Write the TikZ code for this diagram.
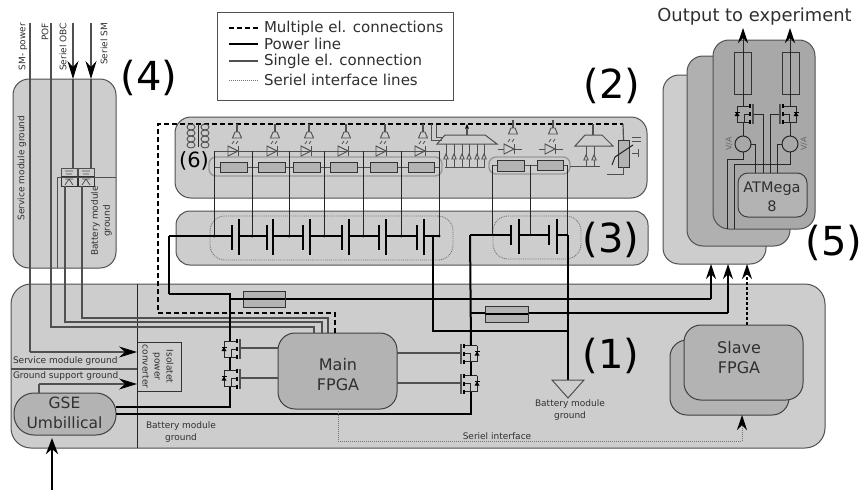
\documentclass[tikz,border=0pt]{standalone}
\usepackage{fontspec}
\setmainfont{DejaVu Sans}
\usetikzlibrary{arrows.meta, positioning, calc}
\definecolor{panelgray}{HTML}{CDCDCD}
\definecolor{boxgray}{HTML}{B3B3B3}
\definecolor{midgray}{HTML}{B0B0B0}
\definecolor{frontgray}{HTML}{A8A8A8}
\definecolor{wiregray}{HTML}{505050}
\definecolor{textgray}{HTML}{303030}
\tikzset{
    every node/.style={inner sep=0pt, outer sep=0pt, text=textgray},
    panel/.style={draw=wiregray, line width=1pt, fill=panelgray, rounded corners=#1},
    panel/.default=16pt,
    cellgroup/.style={draw=black!55, densely dotted, line width=0.9pt, rounded corners=15pt},
    resgroup/.style={draw=black!40, line width=1.4pt, rounded corners=7pt},
    resbox/.style={draw=black!80, line width=1pt, fill=boxgray},
    fpgabox/.style={draw=black!75, line width=1pt, fill=boxgray, rounded corners=#1},
    fpgabox/.default=17pt,
    sline/.style={draw=wiregray, line width=1.2pt},
    tline/.style={draw=black!85, line width=0.9pt},
    pline/.style={draw=black, line width=2pt},
    mline/.style={draw=black, line width=1.7pt, dash pattern=on 5pt off 3pt},
    iline/.style={draw=black!55, line width=1pt, dash pattern=on 1pt off 1pt},
    bigtip/.style={-{Stealth[length=18pt,width=11pt,inset=6pt,black]}},
    midtip/.style={-{Stealth[length=15pt,width=10pt,inset=5pt,black]}},
    smalltext/.style={font=\fontsize{9}{12}\selectfont},
    boxtext/.style={font=\fontsize{16}{20}\selectfont, align=center},
    numtext/.style={font=\fontsize{40}{44}\selectfont, text=black},
    legendtext/.style={font=\fontsize{15}{16}\selectfont, anchor=west},
    fetsym/.pic={
        \draw[tline] (-6,-8) -- (7,-8) (-6,-8) -- (-6,8) -- (7,8) (7,0) -- (1,0) -- (1,8);
        \draw[black, line width=2pt] (7,-10) -- (7,-6) (7,-2) -- (7,2) (7,6) -- (7,10);
        \draw[wiregray, line width=1.4pt] (10,-10) -- (10,10);
        \fill[black] (-8.5,2) -- (-3.5,2) -- (-6,-2) -- cycle;
        \draw[black, line width=1pt] (-8.5,-2) -- (-3.5,-2);
    },
    ledsym/.pic={
        \draw[sline, fill=panelgray, line width=0.9pt] (-5,-5) -- (5,0) -- (-5,5) -- cycle;
        \draw[sline, line width=0.9pt] (5,-5) -- (5,5);
        \draw[wiregray, line width=0.8pt] (-1,-7) -- (1,-10) (3,-7) -- (5,-10);
    },
    gndsym/.pic={
        \draw[sline] (0,0) -- (0,8);
        \draw[sline, fill=panelgray, line width=0.9pt] (-2,8) -- (2,8) -- (4.5,14) -- (-4.5,14) -- cycle;
    },
    inputsym/.pic={
        \draw[wiregray, line width=0.9pt, fill=panelgray] (-2.2,5) -- (0,0) -- (2.2,5) -- cycle;
    },
    optosym/.pic={
        \draw[wiregray, line width=0.8pt] (-8,-1) -- (-8,-9) -- (8,-9) -- (8,-1);
        \draw[black!80, line width=0.9pt] (-8,-1) rectangle (8,9);
        \draw[wiregray, line width=0.8pt] (-4,-6) -- (4,-6) (-3,-3) -- (3,-3) (-4,2) -- (4,2) (0,2) -- (-4,8) (0,2) -- (4,8);
    }
}

\begin{document}
\begin{tikzpicture}[x=1pt, y=-1pt]
    \useasboundingbox (0,0) rectangle (862,490);

    % Panels
    \node[panel, minimum width=814, minimum height=164, rounded corners=20pt] (mainboard) at (418,366) {};
    \node[panel, minimum width=103, minimum height=189] (smpanel) at (64.5,173.5) {};
    \node[panel, minimum width=472, minimum height=81] (ledpanel) at (411,157.5) {};
    \node[panel, minimum width=472, minimum height=54, rounded corners=14pt] (batpanel) at (412,238) {};
    \node[panel, minimum width=103, minimum height=189] (expback) at (714.5,169.5) {};
    \node[panel, fill=midgray, minimum width=103, minimum height=190] (expmid) at (738.5,151) {};
    \node[panel, fill=frontgray, minimum width=102, minimum height=189] (expfront) at (764,134.5) {};

    \node[cellgroup, minimum width=243, minimum height=44] (cellsleft) at (331.5,238) {};
    \node[cellgroup, minimum width=88, minimum height=43] (cellsright) at (537,237.5) {};
    \node[resgroup, minimum width=233, minimum height=19] (ressleft) at (325.5,166.5) {};
    \node[resgroup, minimum width=81, minimum height=17] (ressright) at (529.5,165.5) {};

    % Legend
    \node[draw=wiregray, line width=1pt, fill=white, minimum width=236, minimum height=88] (legendbox) at (335,56) {};
    \foreach \y/\s/\t/\n in {28/mline/Multiple el. connections/multi, 44/pline/Power line/power, 61/sline/Single el. connection/single, 80/iline/Seriel interface lines/seriel} {
        \coordinate (leg\n) at (229,\y);
        \node[legendtext, right=6pt of leg\n, xshift=29pt] (legtext\n) {\t};
        \draw[\s] (leg\n) -- (legtext\n.west -| 258,0);
    }

    % Main board boxes
    \node[fpgabox, minimum width=119, minimum height=76] (mainfpga) at (337.5,371) {};
    \node[boxtext] at (338,375) {Main\\FPGA};
    \node[fpgabox, minimum width=119, minimum height=75] (slaveback) at (729.5,377.5) {};
    \node[fpgabox, minimum width=119, minimum height=75] (slavefpga) at (743.5,362.5) {};
    \node[boxtext] at (739,358) {Slave\\FPGA};
    \node[fpgabox=20pt, minimum width=102, minimum height=42] (gse) at (65,414) {};
    \node[boxtext, font=\fontsize{15.5}{20}\selectfont] at (64.5,413) {GSE\\Umbillical};
    \node[draw=black!80, line width=0.9pt, minimum width=44, minimum height=49] (converter) at (159,366.5) {};
    \node[smalltext, rotate=-90, align=center] at (158,366.5) {Isolatet\\power\\converter};
    \draw[tline] (mainboard.north -| converter.west) -- (mainboard.south -| converter.west);
    \draw[sline] (mainboard.west |- 0,369) -- (converter.west |- 0,369);

    \node[smalltext, anchor=west] at (13,361) {Service module ground};
    \node[smalltext, anchor=west] at (13,376) {Ground support ground};
    \node[smalltext, align=center] at (181,432.5) {Battery module\\ground};
    \node[smalltext, align=center] at (570,410) {Battery module\\ground};
    \node[smalltext] (serieltext) at (497,436) {Seriel interface};

    % Top inputs
    \foreach \x/\t in {23/SM- power, 45/POF, 63/Seriel OBC, 104/Seriel SM} {
        \node[smalltext, rotate=90, anchor=east] at (\x,23) {\t};
    }
    \node[smalltext, rotate=90] at (22,168) {Service module ground};
    \node[smalltext, rotate=90, align=center] at (101.5,221) {Battery module\\ground};

    \pic (optoa) at (69,177) {optosym};
    \pic (optob) at (86,177) {optosym};
    \foreach \x in {73,91} {
        \coordinate (in\x) at (\x,23);
        \draw[sline, bigtip] (in\x) -- (\x,79);
        \draw[sline] (\x,79) -- (\x,168);
    }
    \draw[sline, line width=1pt] (57,268) -- (57,177) -- (smpanel.east |- 0,177);

    \coordinate (insm) at (30,23);
    \coordinate (inpof) at (51,23);
    \coordinate (optoout) at (65,186);
    \coordinate (optotwo) at (82,186);
    \draw[sline] (insm) -- (30,352);
    \draw[sline, bigtip] (30,352) -- (converter.west |- 0,352);
    \draw[sline] (39,393) -- (39,384);
    \draw[sline, bigtip] (39,384) -- (converter.west |- 0,384);
    \draw[sline] (inpof) |- (314,327) -- (mainfpga.north -| 314,0);
    \draw[sline] (optoout) |- (322,322) -- (mainfpga.north -| 322,0);
    \draw[sline] (optotwo) |- (328,318) -- (mainfpga.north -| 328,0);

    % Dashed bus
    \coordinate (busend) at (623,124);
    \draw[mline] (mainfpga.north -| 335,0) -- (335,313) -- (158,313) -- (158,124) -- (busend);
    \draw[sline] (busend) -- (623.5,140);

    % Coils
    \foreach \y in {127,133,139,145} {
        \draw[wiregray, line width=0.9pt] (191,\y) ellipse (4 and 3);
        \draw[wiregray, line width=0.9pt] (205,\y) ellipse (4 and 3);
    }
    \draw[black!85, line width=1.8pt] (198.5,124) -- (198.5,147);
    \node[numtext, font=\fontsize{21}{24}\selectfont] at (194,161) {(6)};

    % Left LED string and cells
    \foreach \x/\g in {233/237, 272/275, 306/309, 343/346, 381/385, 420/423} {
        \pic at (\x,151) {ledsym};
        \pic at (\g,124) {gndsym};
    }
    \draw[sline, line width=1pt] (214,167) -- (439,167);
    \draw[sline, line width=1pt] (214,151) -- (439,151);
    \foreach \a/\b in {220/247, 258/285, 293/320, 330/357, 370/397, 408/434} {
        \node[resbox, minimum width=\b-\a, minimum height=10] (res\a) at ({(\a+\b)/2},167) {};
    }
    \foreach \x in {214,252,289,324,363,401,439} {
        \coordinate (tap\x) at (\x,236);
        \draw[tline] (\x,151) -- (tap\x);
        \fill[black] (tap\x) circle (1.5);
    }
    \draw[pline] (169,294) -- (169,236);
    \foreach \s/\l/\n in {232/239/267, 267/273/303, 303/310/342, 342/349/379, 379/386/417, 417/424/439} {
        \draw[black, line width=1.5pt] (\s,225) -- (\s,250);
        \draw[black, line width=1.5pt] (\l,219) -- (\l,255);
        \draw[pline] (\l,236) -- (\n,236);
    }
    \draw[pline] (169,236) -- (232,236);

    % Right LEDs and cells
    \foreach \x/\g in {509/513, 550/553} {
        \draw[sline, line width=1pt] (\x-11,149) -- (\x+13,149);
        \pic at (\x,149) {ledsym};
        \pic at (\g,120) {gndsym};
    }
    \draw[sline, line width=1pt] (492,165) -- (567,165);
    \node[resbox, minimum width=27, minimum height=11] (resa) at (510.5,165.5) {};
    \node[resbox, minimum width=26, minimum height=10] (resb) at (550,165) {};
    \foreach \x in {492,530,567} {
        \coordinate (tap\x) at (\x,235);
        \draw[tline] (\x,165) -- (tap\x);
    }
    \foreach \s/\l/\n in {511/519/549, 549/557/568} {
        \draw[black, line width=1.5pt] (\s,225) -- (\s,245);
        \draw[black, line width=1.5pt] (\l,219) -- (\l,254);
        \draw[pline] (\l,235) -- (\n,235);
    }
    \draw[pline] (470,235) -- (511,235);

    % Multiplexers
    \draw[sline, fill=panelgray, line width=1pt] (445,135) -- (485,135) -- (497,144) -- (437,144) -- cycle;
    \draw[sline, -{Stealth[length=5pt,width=4pt,black]}] (467,135) -- (467,124);
    \foreach \x in {446,454,462,469,477,484} {
        \draw[sline, line width=1pt] (\x,144) -- (\x,167);
        \pic at (\x,154) {inputsym};
    }
    \draw[sline, line width=1pt] (445,167) -- (485,167);
    \draw[sline, line width=1pt] (431,124) -- (431,140) -- (442,140);
    \draw[sline, line width=1pt] (436,125) -- (436,137) -- (443,137);
    \draw[sline, fill=panelgray, line width=1pt] (585,135) -- (602,135) -- (613,146) -- (575,146) -- cycle;
    \draw[sline] (593,124) -- (593,135);
    \foreach \x in {586,594} {
        \draw[sline, line width=1pt] (\x,146) -- (\x,166);
        \pic at (\x,155) {inputsym};
    }
    \draw[sline, line width=1pt] (570,166) -- (600,166);

    % Thermistor
    \node[resbox, minimum width=11, minimum height=27] (thermistor) at (623.5,153.5) {};
    \draw[sline, line width=1pt] (thermistor.south) -- (623.5,174) -- (607,174);
    \draw[black!85, line width=1pt] (612,165) -- (615,157) -- (633,145);
    \draw[wiregray, line width=0.8pt] (632,137) -- (641,137) (632,141) -- (641,141) (632,153) -- (638,153) (638,149) -- (638,157);

    % Power lines
    \pic at (230,349) {fetsym};
    \pic at (230,378.5) {fetsym};
    \pic[xscale=-1] at (471,353.5) {fetsym};
    \pic[xscale=-1] at (471,383.5) {fetsym};
    \coordinate (fetnw) at (230,341);
    \coordinate (fetsw) at (230,386.5);
    \coordinate (fetne) at (471,345.5);
    \coordinate (fetse) at (471,391.5);
    \draw[pline] (169,294) -- (230,294) -- (fetnw);
    \draw[pline] (230,357) -- (230,370);
    \draw[pline] (471,361.5) -- (471,375.5);
    \draw[pline] (gse.east |- 0,407) -- (230,407) -- (fetsw);
    \draw[pline] (gse.east |- 0,414) -- (471,414) -- (fetse);
    \draw[pline] (433,236) -- (433,331) -- (568,331);
    \draw[pline] (470,235) -- (fetne);
    \draw[pline] (230,299) -- (711,299);
    \draw[pline] (470.5,313) -- (728,313);
    \node[resbox, minimum width=42, minimum height=16] (resone) at (264,299) {};
    \node[resbox, minimum width=43, minimum height=16] (restwo) at (506.5,314) {};
    \draw[pline] (resone.west) -- (resone.east);
    \draw[pline] (restwo.west) -- (restwo.east);
    \draw[pline, midtip] (711,299) -- (711,0 |- expback.south);
    \draw[pline, midtip] (728,313) -- (728,0 |- expback.south);
    \draw[pline] (568,235) -- (568,380);
    \draw[black, line width=1.7pt, dash pattern=on 3pt off 2pt, midtip] (747,325) -- (747,0 |- expback.south);

    \coordinate (gndtip) at (568,398);
    \draw[sline, fill=panelgray, line width=1pt] (552,380) -- (584,380) -- (gndtip) -- cycle;

    % Gate lines
    \draw[sline] (241,348) -- (mainfpga.west |- 0,348);
    \draw[sline] (241,378) -- (mainfpga.west |- 0,378);
    \draw[sline] (mainfpga.east |- 0,353) -- (460,353);
    \draw[sline] (mainfpga.east |- 0,383) -- (460,383);

    % Serial line
    \draw[iline] (mainfpga.south -| 338,0) -- (338,441) -- (742,441) -- (742,435);
    \draw[iline, midtip] (742,435) -- (slaveback.south -| 742,0);

    % Charger stage
    \node[draw=black!80, line width=1pt, minimum width=17, minimum height=42] (rleft) at (742.5,73) {};
    \node[draw=black!80, line width=1pt, minimum width=17, minimum height=42] (rright) at (790.5,73) {};
    \node[fpgabox=10pt, minimum width=69, minimum height=44] (atmega) at (772.5,195) {};
    \node[boxtext, font=\fontsize{14.5}{19}\selectfont] at (772,196.5) {ATMega\\8};
    \node[draw=black!85, line width=1pt, circle, minimum size=16] (senseleft) at (743,144) {};
    \node[draw=black!85, line width=1pt, circle, minimum size=16] (senseright) at (790,144) {};
    \node[smalltext, font=\fontsize{8}{9}\selectfont, rotate=90, text=black!60] at (729,144) {V/A};
    \node[smalltext, font=\fontsize{8}{9}\selectfont, rotate=90, text=black!60] at (804,144) {V/A};
    \pic at (743,114) {fetsym};
    \pic[xscale=-1] at (790,114) {fetsym};
    \coordinate (outleft) at (743,28);
    \coordinate (outright) at (790,28);
    \draw[tline, midtip] (743,106) -- (outleft);
    \draw[tline, midtip] (790,106) -- (outright);
    \draw[tline] (743,122) -- (senseleft.north);
    \draw[tline] (790,122) -- (senseright.north);
    \draw[tline] (754,114) -- (763,114) -- (763,0 |- atmega.north);
    \draw[tline] (779,114) -- (770,114) -- (770,0 |- atmega.north);
    \draw[tline] (senseleft.east) -- (755,144) -- (755,0 |- atmega.north);
    \draw[tline] (senseright.west) -- (777,144) -- (777,0 |- atmega.north);
    \draw[tline] (senseleft.south) -- (743,159) -- (727,159) -- (727,0 |- expfront.south);
    \draw[tline] (senseright.south) -- (790,164) -- (734,164) -- (734,0 |- expfront.south);

    % Output and section labels
    \node[font=\fontsize{17.9}{20}\selectfont] (outtext) at (754.5,17) {Output to experiment};
    \node[numtext] at (149,78) {(4)};
    \node[numtext] at (612,86) {(2)};
    \node[numtext] at (611,240) {(3)};
    \node[numtext] at (611,356) {(1)};
    \node[numtext] at (834,243) {(5)};

    % Umbilical feed
    \coordinate (feed) at (52,490);
    \coordinate (feedtip) at (52,438);
    \draw[black, line width=2.8pt, -{Stealth[length=16pt,width=12pt,inset=5pt]}] (feed) -- (feedtip);
\end{tikzpicture}
\end{document}
